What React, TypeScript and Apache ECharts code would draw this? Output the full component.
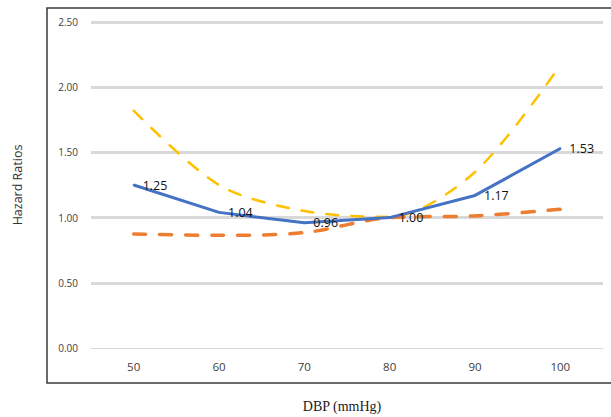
import React, { useEffect, useRef } from "react";
import * as echarts from "echarts";

const categories = ["50", "60", "70", "80", "90", "100"];
const hazardRatio = [1.25, 1.04, 0.96, 1.0, 1.17, 1.53];
const lowerCI = [0.874, 0.864, 0.885, 1.0, 1.013, 1.064];
const upperCI = [1.82, 1.25, 1.05, 1.005, 1.35, 2.17];
const yTicks = { min: 0, max: 2.5, interval: 0.5 };

export default function App() {
  const ref = useRef<HTMLDivElement>(null);
  useEffect(() => {
    document.body.style.margin = "0";
    const chart = echarts.init(ref.current!, null, { renderer: "svg" });
    const sans = "'Open Sans', 'Noto Sans', sans-serif";
    chart.setOption({
      animation: false,
      backgroundColor: "#ffffff",
      graphic: [
        {
          type: "rect",
          shape: { x: 47, y: 8, width: 580, height: 375 },
          style: { fill: "none", stroke: "#3a3a3a", lineWidth: 1.5 },
          silent: true,
          z: 0,
        },
        {
          type: "text",
          x: 17,
          y: 185,
          rotation: Math.PI / 2,
          style: {
            text: "Hazard Ratios",
            fontFamily: sans,
            fontSize: 12.5,
            fill: "#333",
            align: "center",
            verticalAlign: "middle",
          },
        },
        {
          type: "text",
          x: 342,
          y: 406,
          style: {
            text: "DBP (mmHg)",
            fontFamily: "'Liberation Serif', 'DejaVu Serif', serif",
            fontSize: 14,
            fill: "#222",
            align: "center",
            verticalAlign: "middle",
          },
        },
      ],
      grid: { left: 91, right: 8, top: 22, bottom: 69, containLabel: false },
      xAxis: {
        type: "category",
        data: categories,
        boundaryGap: true,
        axisLine: { show: true, lineStyle: { color: "#d9d9d9", width: 1 } },
        axisTick: { show: false },
        axisLabel: {
          margin: 12,
          fontSize: 11.5,
          fontFamily: sans,
          color: "#404040",
        },
      },
      yAxis: {
        type: "value",
        min: yTicks.min,
        max: yTicks.max,
        interval: yTicks.interval,
        axisLine: { show: false },
        axisTick: { show: false },
        axisLabel: {
          margin: 13,
          fontSize: 10,
          fontFamily: sans,
          color: "#404040",
          formatter: (v: number) => v.toFixed(2),
        },
        splitLine: {
          show: true,
          showMinLine: false,
          lineStyle: { color: "#d9d9d9", width: 3 },
        },
      },
      series: [
        {
          type: "line",
          data: upperCI,
          smooth: 0.3,
          symbol: "none",
          lineStyle: { color: "#FFC000", width: 2.5, type: [12, 13], cap: "round" },
          z: 2,
        },
        {
          type: "line",
          data: lowerCI,
          smooth: 0.3,
          symbol: "none",
          lineStyle: { color: "#ED7D31", width: 3.5, type: [12, 14], cap: "round" },
          z: 3,
        },
        {
          type: "line",
          data: hazardRatio,
          symbol: "circle",
          symbolSize: 2,
          showSymbol: true,
          itemStyle: { color: "#4472C4" },
          lineStyle: { color: "#4472C4", width: 3 },
          label: {
            show: true,
            position: "right",
            distance: 8,
            offset: [0, 2],
            fontSize: 12.5,
            fontFamily: sans,
            color: "#111",
            formatter: (p: any) => Number(p.value).toFixed(2),
          },
          labelLayout: { hideOverlap: false },
          z: 4,
        },
      ],
    });
    return () => chart.dispose();
  }, []);
  return <div ref={ref} style={{ width: 611, height: 417 }} />;
}
